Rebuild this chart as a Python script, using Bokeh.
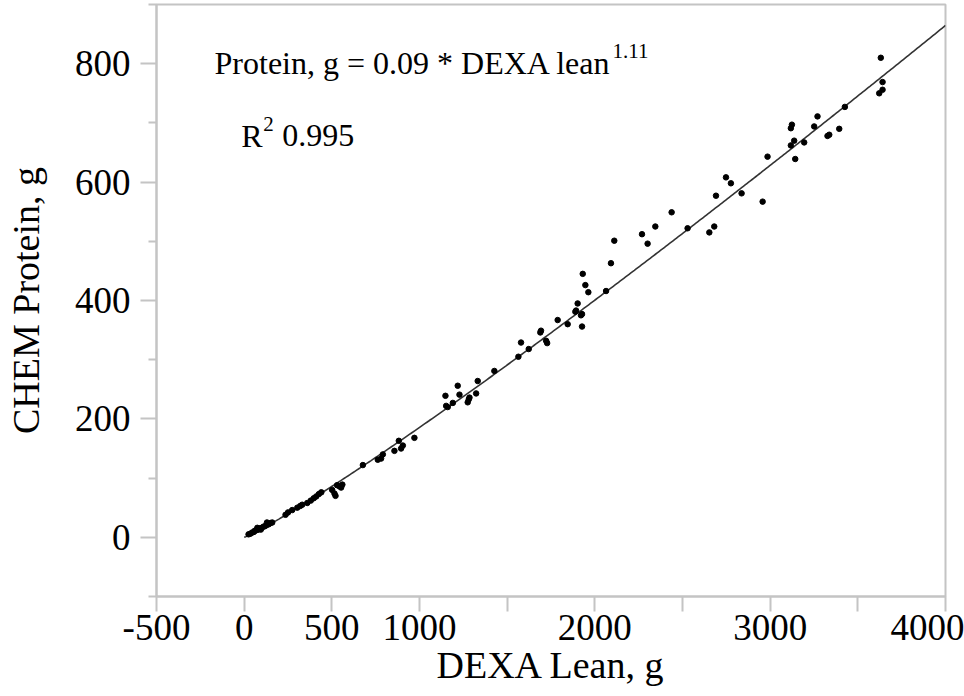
from bokeh.plotting import figure
from bokeh.models import Range1d, FixedTicker, Label
from bokeh.embed import file_html
from bokeh.resources import INLINE
import numpy as np

# ---- data ----
dexa_lean = [25, 35, 45, 55, 60, 70, 75, 80, 90, 95, 100, 110, 120, 130, 130, 140, 150, 160,
             236, 250, 274, 303, 320, 331, 360, 380, 397, 411, 426, 440,
             502, 515, 521, 530, 544, 553, 560,
             677, 762, 781, 791, 857, 882, 895, 905, 971,
             1148, 1152, 1161, 1190, 1218, 1228, 1275, 1281, 1285, 1323, 1332,
             1427, 1564, 1579, 1623, 1689, 1693, 1722, 1728, 1788, 1845, 1889, 1893,
             1902, 1921, 1927, 1927, 1931, 1946, 1963, 2064, 2092, 2111,
             2269, 2301, 2345, 2438, 2529, 2653, 2681, 2691, 2748, 2776, 2837, 2957, 2985,
             3118, 3118, 3124, 3137, 3143, 3194, 3251, 3270, 3327, 3337, 3394, 3426,
             3622, 3641, 3641, 3631]
chem_protein = [5, 6, 8, 9, 11, 12, 16, 13, 15, 13, 16, 18, 19, 21, 25, 22, 24, 25,
                38, 42, 46, 50, 53, 55, 58, 62, 66, 69, 73, 76,
                80, 74, 70, 88, 86, 84, 89,
                122, 131, 133, 140, 146, 163, 150, 155, 168,
                239, 222, 220, 227, 256, 241, 228, 233, 236, 243, 264,
                281, 305, 329, 318, 346, 349, 332, 328, 367, 360, 381, 383,
                395, 375, 377, 356, 445, 426, 414, 416, 463, 501,
                512, 496, 525, 549, 522, 515, 525, 577, 608, 598, 581, 567, 643,
                662, 691, 697, 670, 639, 667, 694, 711, 678, 680, 690, 727,
                750, 756, 769, 810]

fit_coef = 0.0868      # curve drawn in the reference
fit_exp = 1.11
fit_x_max = 4000

x_ticks = [-500, 0, 500, 1000, 1500, 2000, 2500, 3000, 3500, 4000]
x_label_overrides = {-500: "-500", 1500: "", 2500: "", 3500: ""}
y_ticks = [0, 200, 400, 600, 800]
y_minor_ticks = [-100, 100, 300, 500, 700, 900]

eq_text = "Protein, g = 0.09 * DEXA lean"
eq_sup = "1.11"
r2_text = "0.995"

FONT = "Liberation Serif"
GRAY = "#c4c4c4"

p = figure(width=964, height=696, output_backend="svg", toolbar_location=None,
           x_range=Range1d(-500, 4000), y_range=Range1d(-100, 900),
           min_border_left=156, min_border_right=19, min_border_top=4, min_border_bottom=100)
p.xgrid.visible = False
p.ygrid.visible = False
p.outline_line_color = GRAY
p.outline_line_width = 2
p.background_fill_color = "white"
p.border_fill_color = "white"

fx = np.linspace(0, fit_x_max, 400)
p.line(fx, fit_coef * fx ** fit_exp, line_color="#333333", line_width=1.6)
p.scatter(dexa_lean, chem_protein, size=5.5, marker="circle", fill_color="black", line_color="black")

xa = p.xaxis[0]
xa.ticker = FixedTicker(ticks=x_ticks, minor_ticks=[])
xa.major_label_overrides = x_label_overrides
ya = p.yaxis[0]
ya.ticker = FixedTicker(ticks=y_ticks, minor_ticks=y_minor_ticks)

for ax in (xa, ya):
    ax.axis_line_color = GRAY
    ax.axis_line_width = 2
    ax.major_tick_line_color = GRAY
    ax.major_tick_line_width = 2
    ax.minor_tick_line_color = GRAY
    ax.minor_tick_line_width = 2
    ax.major_tick_in = 0
    ax.minor_tick_in = 0
    ax.major_label_text_font = FONT
    ax.major_label_text_font_size = "37px"
    ax.major_label_text_color = "black"
    ax.axis_label_text_font = FONT
    ax.axis_label_text_font_size = "38px"
    ax.axis_label_text_font_style = "normal"
    ax.axis_label_text_color = "black"

xa.major_tick_out = 15
xa.major_label_standoff = 3
xa.axis_label = "DEXA Lean, g"
xa.axis_label_standoff = 1
ya.major_tick_out = 16
ya.minor_tick_out = 8
ya.major_label_standoff = 10
ya.axis_label = "CHEM Protein, g"
ya.axis_label_standoff = 25

lab_kw = dict(text_font=FONT, text_color="black", text_baseline="alphabetic", text_align="left")
p.add_layout(Label(x=-169, y=801, text=eq_text, text_font_size="32px", **lab_kw))
p.add_layout(Label(x=-169, y=801, x_offset=398, y_offset=12, text=eq_sup, text_font_size="21px", **lab_kw))
p.add_layout(Label(x=-17, y=678, text="R", text_font_size="32px", **lab_kw))
p.add_layout(Label(x=-17, y=678, x_offset=22, y_offset=12, text="2", text_font_size="21px", **lab_kw))
p.add_layout(Label(x=-17, y=678, x_offset=41, text=r2_text, text_font_size="32px", **lab_kw))

open("out.html", "w").write(file_html(p, INLINE))
